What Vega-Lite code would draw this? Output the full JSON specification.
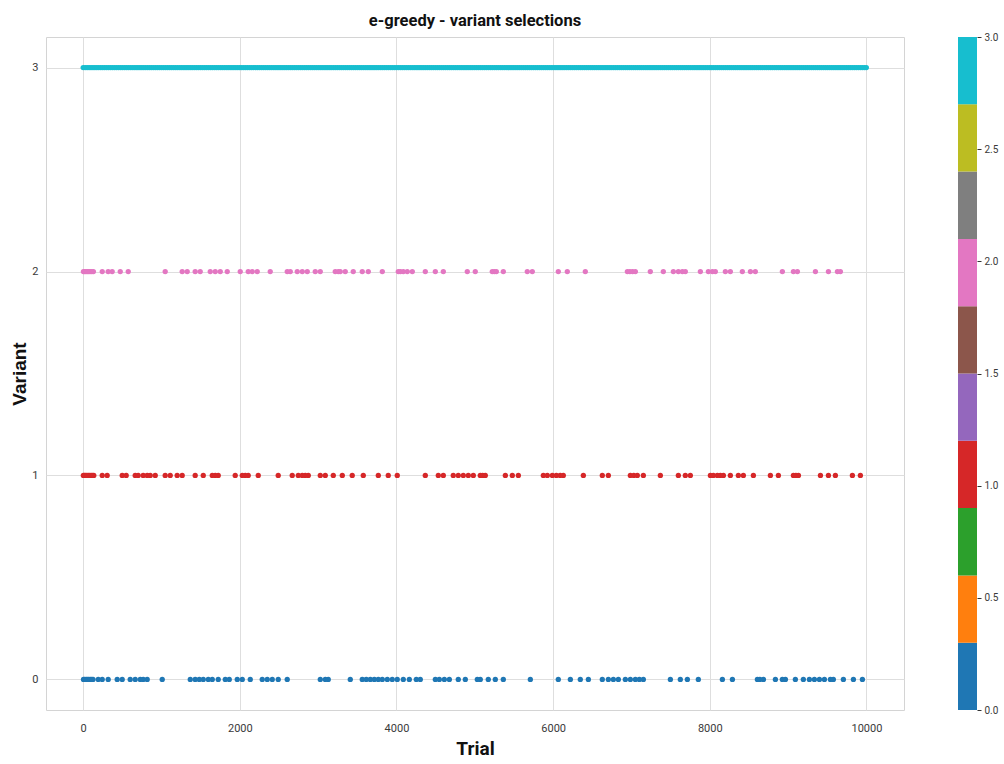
{
  "$schema": "https://vega.github.io/schema/vega-lite/v6.json",
  "background": "white",
  "padding": {"left": 10, "top": 12, "right": 4, "bottom": 4},
  "bounds": "flush",
  "spacing": 54,
  "resolve": {"scale": {"x": "independent", "y": "independent", "color": "independent"}},
  "config": {
    "font": "Roboto",
    "view": {"stroke": "#d4d4d4", "strokeWidth": 1},
    "axis": {
      "labelFont": "Roboto",
      "titleFont": "Roboto",
      "labelColor": "#3a3a3a",
      "titleColor": "#111111"
    }
  },
  "datasets": {
    "picks": [
      {"t":0,"v":3},{"t":25,"v":3},{"t":50,"v":3},{"t":75,"v":3},{"t":100,"v":3},{"t":125,"v":3},{"t":150,"v":3},{"t":175,"v":3},{"t":200,"v":3},{"t":225,"v":3},{"t":250,"v":3},{"t":275,"v":3},{"t":300,"v":3},{"t":325,"v":3},{"t":350,"v":3},{"t":375,"v":3},{"t":400,"v":3},{"t":425,"v":3},{"t":450,"v":3},{"t":475,"v":3},{"t":500,"v":3},{"t":525,"v":3},{"t":550,"v":3},{"t":575,"v":3},{"t":600,"v":3},{"t":625,"v":3},{"t":650,"v":3},{"t":675,"v":3},{"t":700,"v":3},{"t":725,"v":3},{"t":750,"v":3},{"t":775,"v":3},{"t":800,"v":3},{"t":825,"v":3},{"t":850,"v":3},{"t":875,"v":3},{"t":900,"v":3},{"t":925,"v":3},{"t":950,"v":3},{"t":975,"v":3},
      {"t":1000,"v":3},{"t":1025,"v":3},{"t":1050,"v":3},{"t":1075,"v":3},{"t":1100,"v":3},{"t":1125,"v":3},{"t":1150,"v":3},{"t":1175,"v":3},{"t":1200,"v":3},{"t":1225,"v":3},{"t":1250,"v":3},{"t":1275,"v":3},{"t":1300,"v":3},{"t":1325,"v":3},{"t":1350,"v":3},{"t":1375,"v":3},{"t":1400,"v":3},{"t":1425,"v":3},{"t":1450,"v":3},{"t":1475,"v":3},{"t":1500,"v":3},{"t":1525,"v":3},{"t":1550,"v":3},{"t":1575,"v":3},{"t":1600,"v":3},{"t":1625,"v":3},{"t":1650,"v":3},{"t":1675,"v":3},{"t":1700,"v":3},{"t":1725,"v":3},{"t":1750,"v":3},{"t":1775,"v":3},{"t":1800,"v":3},{"t":1825,"v":3},{"t":1850,"v":3},{"t":1875,"v":3},{"t":1900,"v":3},{"t":1925,"v":3},{"t":1950,"v":3},{"t":1975,"v":3},
      {"t":2000,"v":3},{"t":2025,"v":3},{"t":2050,"v":3},{"t":2075,"v":3},{"t":2100,"v":3},{"t":2125,"v":3},{"t":2150,"v":3},{"t":2175,"v":3},{"t":2200,"v":3},{"t":2225,"v":3},{"t":2250,"v":3},{"t":2275,"v":3},{"t":2300,"v":3},{"t":2325,"v":3},{"t":2350,"v":3},{"t":2375,"v":3},{"t":2400,"v":3},{"t":2425,"v":3},{"t":2450,"v":3},{"t":2475,"v":3},{"t":2500,"v":3},{"t":2525,"v":3},{"t":2550,"v":3},{"t":2575,"v":3},{"t":2600,"v":3},{"t":2625,"v":3},{"t":2650,"v":3},{"t":2675,"v":3},{"t":2700,"v":3},{"t":2725,"v":3},{"t":2750,"v":3},{"t":2775,"v":3},{"t":2800,"v":3},{"t":2825,"v":3},{"t":2850,"v":3},{"t":2875,"v":3},{"t":2900,"v":3},{"t":2925,"v":3},{"t":2950,"v":3},{"t":2975,"v":3},
      {"t":3000,"v":3},{"t":3025,"v":3},{"t":3050,"v":3},{"t":3075,"v":3},{"t":3100,"v":3},{"t":3125,"v":3},{"t":3150,"v":3},{"t":3175,"v":3},{"t":3200,"v":3},{"t":3225,"v":3},{"t":3250,"v":3},{"t":3275,"v":3},{"t":3300,"v":3},{"t":3325,"v":3},{"t":3350,"v":3},{"t":3375,"v":3},{"t":3400,"v":3},{"t":3425,"v":3},{"t":3450,"v":3},{"t":3475,"v":3},{"t":3500,"v":3},{"t":3525,"v":3},{"t":3550,"v":3},{"t":3575,"v":3},{"t":3600,"v":3},{"t":3625,"v":3},{"t":3650,"v":3},{"t":3675,"v":3},{"t":3700,"v":3},{"t":3725,"v":3},{"t":3750,"v":3},{"t":3775,"v":3},{"t":3800,"v":3},{"t":3825,"v":3},{"t":3850,"v":3},{"t":3875,"v":3},{"t":3900,"v":3},{"t":3925,"v":3},{"t":3950,"v":3},{"t":3975,"v":3},
      {"t":4000,"v":3},{"t":4025,"v":3},{"t":4050,"v":3},{"t":4075,"v":3},{"t":4100,"v":3},{"t":4125,"v":3},{"t":4150,"v":3},{"t":4175,"v":3},{"t":4200,"v":3},{"t":4225,"v":3},{"t":4250,"v":3},{"t":4275,"v":3},{"t":4300,"v":3},{"t":4325,"v":3},{"t":4350,"v":3},{"t":4375,"v":3},{"t":4400,"v":3},{"t":4425,"v":3},{"t":4450,"v":3},{"t":4475,"v":3},{"t":4500,"v":3},{"t":4525,"v":3},{"t":4550,"v":3},{"t":4575,"v":3},{"t":4600,"v":3},{"t":4625,"v":3},{"t":4650,"v":3},{"t":4675,"v":3},{"t":4700,"v":3},{"t":4725,"v":3},{"t":4750,"v":3},{"t":4775,"v":3},{"t":4800,"v":3},{"t":4825,"v":3},{"t":4850,"v":3},{"t":4875,"v":3},{"t":4900,"v":3},{"t":4925,"v":3},{"t":4950,"v":3},{"t":4975,"v":3},
      {"t":5000,"v":3},{"t":5025,"v":3},{"t":5050,"v":3},{"t":5075,"v":3},{"t":5100,"v":3},{"t":5125,"v":3},{"t":5150,"v":3},{"t":5175,"v":3},{"t":5200,"v":3},{"t":5225,"v":3},{"t":5250,"v":3},{"t":5275,"v":3},{"t":5300,"v":3},{"t":5325,"v":3},{"t":5350,"v":3},{"t":5375,"v":3},{"t":5400,"v":3},{"t":5425,"v":3},{"t":5450,"v":3},{"t":5475,"v":3},{"t":5500,"v":3},{"t":5525,"v":3},{"t":5550,"v":3},{"t":5575,"v":3},{"t":5600,"v":3},{"t":5625,"v":3},{"t":5650,"v":3},{"t":5675,"v":3},{"t":5700,"v":3},{"t":5725,"v":3},{"t":5750,"v":3},{"t":5775,"v":3},{"t":5800,"v":3},{"t":5825,"v":3},{"t":5850,"v":3},{"t":5875,"v":3},{"t":5900,"v":3},{"t":5925,"v":3},{"t":5950,"v":3},{"t":5975,"v":3},
      {"t":6000,"v":3},{"t":6025,"v":3},{"t":6050,"v":3},{"t":6075,"v":3},{"t":6100,"v":3},{"t":6125,"v":3},{"t":6150,"v":3},{"t":6175,"v":3},{"t":6200,"v":3},{"t":6225,"v":3},{"t":6250,"v":3},{"t":6275,"v":3},{"t":6300,"v":3},{"t":6325,"v":3},{"t":6350,"v":3},{"t":6375,"v":3},{"t":6400,"v":3},{"t":6425,"v":3},{"t":6450,"v":3},{"t":6475,"v":3},{"t":6500,"v":3},{"t":6525,"v":3},{"t":6550,"v":3},{"t":6575,"v":3},{"t":6600,"v":3},{"t":6625,"v":3},{"t":6650,"v":3},{"t":6675,"v":3},{"t":6700,"v":3},{"t":6725,"v":3},{"t":6750,"v":3},{"t":6775,"v":3},{"t":6800,"v":3},{"t":6825,"v":3},{"t":6850,"v":3},{"t":6875,"v":3},{"t":6900,"v":3},{"t":6925,"v":3},{"t":6950,"v":3},{"t":6975,"v":3},
      {"t":7000,"v":3},{"t":7025,"v":3},{"t":7050,"v":3},{"t":7075,"v":3},{"t":7100,"v":3},{"t":7125,"v":3},{"t":7150,"v":3},{"t":7175,"v":3},{"t":7200,"v":3},{"t":7225,"v":3},{"t":7250,"v":3},{"t":7275,"v":3},{"t":7300,"v":3},{"t":7325,"v":3},{"t":7350,"v":3},{"t":7375,"v":3},{"t":7400,"v":3},{"t":7425,"v":3},{"t":7450,"v":3},{"t":7475,"v":3},{"t":7500,"v":3},{"t":7525,"v":3},{"t":7550,"v":3},{"t":7575,"v":3},{"t":7600,"v":3},{"t":7625,"v":3},{"t":7650,"v":3},{"t":7675,"v":3},{"t":7700,"v":3},{"t":7725,"v":3},{"t":7750,"v":3},{"t":7775,"v":3},{"t":7800,"v":3},{"t":7825,"v":3},{"t":7850,"v":3},{"t":7875,"v":3},{"t":7900,"v":3},{"t":7925,"v":3},{"t":7950,"v":3},{"t":7975,"v":3},
      {"t":8000,"v":3},{"t":8025,"v":3},{"t":8050,"v":3},{"t":8075,"v":3},{"t":8100,"v":3},{"t":8125,"v":3},{"t":8150,"v":3},{"t":8175,"v":3},{"t":8200,"v":3},{"t":8225,"v":3},{"t":8250,"v":3},{"t":8275,"v":3},{"t":8300,"v":3},{"t":8325,"v":3},{"t":8350,"v":3},{"t":8375,"v":3},{"t":8400,"v":3},{"t":8425,"v":3},{"t":8450,"v":3},{"t":8475,"v":3},{"t":8500,"v":3},{"t":8525,"v":3},{"t":8550,"v":3},{"t":8575,"v":3},{"t":8600,"v":3},{"t":8625,"v":3},{"t":8650,"v":3},{"t":8675,"v":3},{"t":8700,"v":3},{"t":8725,"v":3},{"t":8750,"v":3},{"t":8775,"v":3},{"t":8800,"v":3},{"t":8825,"v":3},{"t":8850,"v":3},{"t":8875,"v":3},{"t":8900,"v":3},{"t":8925,"v":3},{"t":8950,"v":3},{"t":8975,"v":3},
      {"t":9000,"v":3},{"t":9025,"v":3},{"t":9050,"v":3},{"t":9075,"v":3},{"t":9100,"v":3},{"t":9125,"v":3},{"t":9150,"v":3},{"t":9175,"v":3},{"t":9200,"v":3},{"t":9225,"v":3},{"t":9250,"v":3},{"t":9275,"v":3},{"t":9300,"v":3},{"t":9325,"v":3},{"t":9350,"v":3},{"t":9375,"v":3},{"t":9400,"v":3},{"t":9425,"v":3},{"t":9450,"v":3},{"t":9475,"v":3},{"t":9500,"v":3},{"t":9525,"v":3},{"t":9550,"v":3},{"t":9575,"v":3},{"t":9600,"v":3},{"t":9625,"v":3},{"t":9650,"v":3},{"t":9675,"v":3},{"t":9700,"v":3},{"t":9725,"v":3},{"t":9750,"v":3},{"t":9775,"v":3},{"t":9800,"v":3},{"t":9825,"v":3},{"t":9850,"v":3},{"t":9875,"v":3},{"t":9900,"v":3},{"t":9925,"v":3},{"t":9950,"v":3},{"t":9975,"v":3},{"t":9999,"v":3},

      {"t":3,"v":2},{"t":18,"v":2},{"t":35,"v":2},{"t":52,"v":2},{"t":70,"v":2},{"t":88,"v":2},{"t":110,"v":2},{"t":130,"v":2},{"t":243,"v":2},{"t":319,"v":2},{"t":370,"v":2},{"t":473,"v":2},{"t":575,"v":2},{"t":1047,"v":2},{"t":1264,"v":2},{"t":1328,"v":2},{"t":1430,"v":2},{"t":1494,"v":2},{"t":1622,"v":2},{"t":1686,"v":2},{"t":1750,"v":2},{"t":1839,"v":2},{"t":2005,"v":2},{"t":2107,"v":2},{"t":2158,"v":2},{"t":2222,"v":2},{"t":2388,"v":2},{"t":2605,"v":2},{"t":2644,"v":2},{"t":2733,"v":2},{"t":2797,"v":2},{"t":2861,"v":2},{"t":2963,"v":2},{"t":3027,"v":2},{"t":3218,"v":2},{"t":3257,"v":2},{"t":3282,"v":2},{"t":3346,"v":2},{"t":3448,"v":2},{"t":3563,"v":2},{"t":3640,"v":2},{"t":3819,"v":2},{"t":4023,"v":2},{"t":4049,"v":2},{"t":4087,"v":2},{"t":4138,"v":2},{"t":4202,"v":2},{"t":4368,"v":2},{"t":4496,"v":2},{"t":4598,"v":2},{"t":4904,"v":2},{"t":5006,"v":2},{"t":5223,"v":2},{"t":5250,"v":2},{"t":5275,"v":2},{"t":5364,"v":2},{"t":5670,"v":2},{"t":5734,"v":2},{"t":6066,"v":2},{"t":6181,"v":2},{"t":6411,"v":2},{"t":6948,"v":2},{"t":6980,"v":2},{"t":7015,"v":2},{"t":7050,"v":2},{"t":7241,"v":2},{"t":7407,"v":2},{"t":7535,"v":2},{"t":7599,"v":2},{"t":7650,"v":2},{"t":7688,"v":2},{"t":7880,"v":2},{"t":7982,"v":2},{"t":8033,"v":2},{"t":8071,"v":2},{"t":8199,"v":2},{"t":8263,"v":2},{"t":8416,"v":2},{"t":8519,"v":2},{"t":8582,"v":2},{"t":8927,"v":2},{"t":9068,"v":2},{"t":9119,"v":2},{"t":9349,"v":2},{"t":9515,"v":2},{"t":9630,"v":2},{"t":9668,"v":2},

      {"t":2,"v":1},{"t":15,"v":1},{"t":30,"v":1},{"t":48,"v":1},{"t":65,"v":1},{"t":82,"v":1},{"t":100,"v":1},{"t":118,"v":1},{"t":135,"v":1},{"t":243,"v":1},{"t":306,"v":1},{"t":498,"v":1},{"t":549,"v":1},{"t":664,"v":1},{"t":702,"v":1},{"t":766,"v":1},{"t":817,"v":1},{"t":856,"v":1},{"t":920,"v":1},{"t":1047,"v":1},{"t":1111,"v":1},{"t":1200,"v":1},{"t":1264,"v":1},{"t":1430,"v":1},{"t":1533,"v":1},{"t":1648,"v":1},{"t":1686,"v":1},{"t":1724,"v":1},{"t":1941,"v":1},{"t":2031,"v":1},{"t":2069,"v":1},{"t":2107,"v":1},{"t":2235,"v":1},{"t":2490,"v":1},{"t":2669,"v":1},{"t":2746,"v":1},{"t":2797,"v":1},{"t":2835,"v":1},{"t":2874,"v":1},{"t":3027,"v":1},{"t":3091,"v":1},{"t":3193,"v":1},{"t":3308,"v":1},{"t":3435,"v":1},{"t":3576,"v":1},{"t":3768,"v":1},{"t":3895,"v":1},{"t":4010,"v":1},{"t":4368,"v":1},{"t":4534,"v":1},{"t":4598,"v":1},{"t":4725,"v":1},{"t":4789,"v":1},{"t":4853,"v":1},{"t":4917,"v":1},{"t":4981,"v":1},{"t":5070,"v":1},{"t":5100,"v":1},{"t":5134,"v":1},{"t":5390,"v":1},{"t":5479,"v":1},{"t":5556,"v":1},{"t":5875,"v":1},{"t":5926,"v":1},{"t":5990,"v":1},{"t":6041,"v":1},{"t":6090,"v":1},{"t":6130,"v":1},{"t":6386,"v":1},{"t":6628,"v":1},{"t":6705,"v":1},{"t":6986,"v":1},{"t":7030,"v":1},{"t":7075,"v":1},{"t":7152,"v":1},{"t":7369,"v":1},{"t":7599,"v":1},{"t":7688,"v":1},{"t":7752,"v":1},{"t":8008,"v":1},{"t":8046,"v":1},{"t":8097,"v":1},{"t":8135,"v":1},{"t":8174,"v":1},{"t":8263,"v":1},{"t":8365,"v":1},{"t":8429,"v":1},{"t":8557,"v":1},{"t":8774,"v":1},{"t":8876,"v":1},{"t":9068,"v":1},{"t":9100,"v":1},{"t":9132,"v":1},{"t":9413,"v":1},{"t":9515,"v":1},{"t":9604,"v":1},{"t":9821,"v":1},{"t":9923,"v":1},

      {"t":4,"v":0},{"t":20,"v":0},{"t":38,"v":0},{"t":55,"v":0},{"t":72,"v":0},{"t":90,"v":0},{"t":108,"v":0},{"t":125,"v":0},{"t":192,"v":0},{"t":243,"v":0},{"t":319,"v":0},{"t":434,"v":0},{"t":498,"v":0},{"t":600,"v":0},{"t":664,"v":0},{"t":728,"v":0},{"t":766,"v":0},{"t":817,"v":0},{"t":1009,"v":0},{"t":1367,"v":0},{"t":1430,"v":0},{"t":1482,"v":0},{"t":1533,"v":0},{"t":1597,"v":0},{"t":1648,"v":0},{"t":1724,"v":0},{"t":1814,"v":0},{"t":1865,"v":0},{"t":1967,"v":0},{"t":2031,"v":0},{"t":2133,"v":0},{"t":2286,"v":0},{"t":2350,"v":0},{"t":2414,"v":0},{"t":2490,"v":0},{"t":2605,"v":0},{"t":3027,"v":0},{"t":3091,"v":0},{"t":3129,"v":0},{"t":3410,"v":0},{"t":3563,"v":0},{"t":3614,"v":0},{"t":3666,"v":0},{"t":3717,"v":0},{"t":3768,"v":0},{"t":3819,"v":0},{"t":3883,"v":0},{"t":3946,"v":0},{"t":4010,"v":0},{"t":4087,"v":0},{"t":4164,"v":0},{"t":4253,"v":0},{"t":4304,"v":0},{"t":4496,"v":0},{"t":4547,"v":0},{"t":4611,"v":0},{"t":4675,"v":0},{"t":4789,"v":0},{"t":4879,"v":0},{"t":5032,"v":0},{"t":5070,"v":0},{"t":5172,"v":0},{"t":5262,"v":0},{"t":5364,"v":0},{"t":5709,"v":0},{"t":6066,"v":0},{"t":6220,"v":0},{"t":6347,"v":0},{"t":6450,"v":0},{"t":6628,"v":0},{"t":6705,"v":0},{"t":6769,"v":0},{"t":6833,"v":0},{"t":6922,"v":0},{"t":6986,"v":0},{"t":7050,"v":0},{"t":7101,"v":0},{"t":7152,"v":0},{"t":7497,"v":0},{"t":7624,"v":0},{"t":7714,"v":0},{"t":7854,"v":0},{"t":8161,"v":0},{"t":8289,"v":0},{"t":8608,"v":0},{"t":8640,"v":0},{"t":8685,"v":0},{"t":8838,"v":0},{"t":8927,"v":0},{"t":8966,"v":0},{"t":9093,"v":0},{"t":9195,"v":0},{"t":9272,"v":0},{"t":9336,"v":0},{"t":9400,"v":0},{"t":9464,"v":0},{"t":9540,"v":0},{"t":9578,"v":0},{"t":9706,"v":0},{"t":9834,"v":0},{"t":9949,"v":0}
    ],
    "bands": [
      {"k":0,"lo":0.0,"hi":0.3},{"k":1,"lo":0.3,"hi":0.6},{"k":2,"lo":0.6,"hi":0.9},{"k":3,"lo":0.9,"hi":1.2},{"k":4,"lo":1.2,"hi":1.5},
      {"k":5,"lo":1.5,"hi":1.8},{"k":6,"lo":1.8,"hi":2.1},{"k":7,"lo":2.1,"hi":2.4},{"k":8,"lo":2.4,"hi":2.7},{"k":9,"lo":2.7,"hi":3.0}
    ]
  },
  "hconcat": [
    {
      "width": 858,
      "height": 673,
      "title": {
        "text": "e-greedy - variant selections",
        "font": "Roboto",
        "fontSize": 16.5,
        "fontWeight": "bold",
        "color": "#111111",
        "anchor": "middle",
        "offset": 8
      },
      "data": {"name": "picks"},
      "mark": {"type": "circle", "size": 28, "opacity": 1},
      "encoding": {
        "x": {
          "field": "t", "type": "quantitative", "title": "Trial",
          "scale": {"domain": [-475, 10480], "nice": false, "zero": false},
          "axis": {
            "values": [0, 2000, 4000, 6000, 8000, 10000], "format": "d",
            "grid": true, "gridColor": "#dedede", "domain": false, "ticks": false, "tickSize": 0,
            "labelFontSize": 11, "labelPadding": 12,
            "titleFontSize": 19, "titleFontWeight": "bold", "titlePadding": 6
          }
        },
        "y": {
          "field": "v", "type": "quantitative", "title": "Variant",
          "scale": {"domain": [-0.15, 3.15], "nice": false, "zero": false},
          "axis": {
            "values": [0, 1, 2, 3], "format": "d",
            "grid": true, "gridColor": "#dedede", "domain": false, "ticks": false, "tickSize": 0,
            "labelFontSize": 11, "labelPadding": 8,
            "titleFont": "Liberation Sans", "titleFontSize": 19, "titleFontWeight": "bold", "titlePadding": 2
          }
        },
        "color": {
          "field": "v", "type": "ordinal",
          "scale": {"domain": [0, 1, 2, 3], "range": ["#1f77b4", "#d62728", "#e377c2", "#17becf"]},
          "legend": null
        }
      }
    },
    {
      "width": 19,
      "height": 673,
      "view": {"stroke": null},
      "data": {"name": "bands"},
      "mark": {"type": "rect"},
      "encoding": {
        "y": {
          "field": "lo", "type": "quantitative", "title": null,
          "scale": {"domain": [0, 3], "nice": false, "zero": false},
          "axis": {
            "orient": "right", "values": [0, 0.5, 1, 1.5, 2, 2.5, 3], "format": ".1f",
            "grid": false, "domain": false, "ticks": true, "tickSize": 4, "tickColor": "#333333",
            "labelFontSize": 10, "labelPadding": 3
          }
        },
        "y2": {"field": "hi"},
        "color": {
          "field": "k", "type": "ordinal",
          "scale": {"domain": [0, 1, 2, 3, 4, 5, 6, 7, 8, 9], "scheme": "category10"},
          "legend": null
        }
      }
    }
  ]
}
